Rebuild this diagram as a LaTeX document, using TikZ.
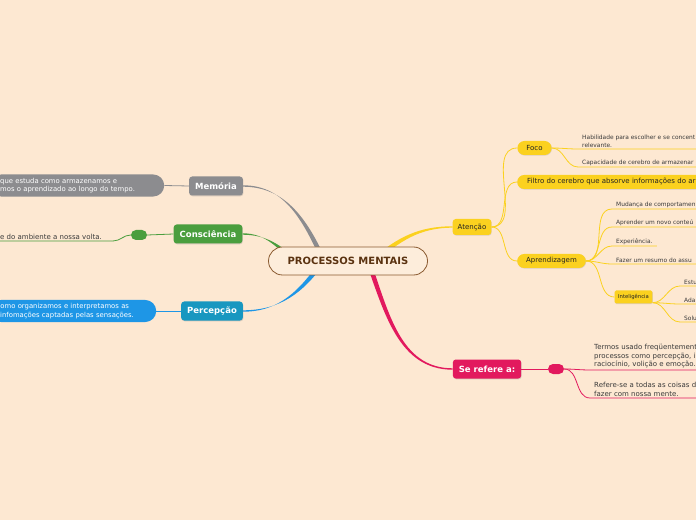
\documentclass[tikz,border=0pt]{standalone}
\usepackage{fontspec}
\setmainfont{DejaVu Sans}
\usetikzlibrary{calc, positioning, backgrounds, shadows}
\definecolor{papier}{HTML}{FDE8D2}
\definecolor{grau}{HTML}{8C8C8F}
\definecolor{gruen}{HTML}{4A9E3E}
\definecolor{tuerkis}{HTML}{1897C0}
\definecolor{blau}{HTML}{1E96E6}
\definecolor{gelb}{HTML}{FBD11F}
\definecolor{rot}{HTML}{E2195E}
\definecolor{braun}{HTML}{8A5A30}
\definecolor{dunkelbraun}{HTML}{5A3210}
\definecolor{schrift}{HTML}{3A3A3A}

\begin{document}
\begin{tikzpicture}[
    x=1pt, y=1pt,
    zentrum/.style={draw=braun, line width=0.8pt, fill=papier!80!white,
      rounded corners=14pt, minimum width=159pt, minimum height=28pt,
      text=dunkelbraun, font=\fontsize{10}{12}\selectfont\bfseries},
    kat/.style={rounded corners=3pt, minimum height=19pt, inner xsep=6pt,
      inner ysep=0pt, text=white, font=\fontsize{8.5}{10}\selectfont\bfseries,
      drop shadow={shadow xshift=0.5pt, shadow yshift=-0.8pt, opacity=0.3}},
    thema/.style={fill=gelb, rounded corners=7pt, minimum height=14pt,
      inner xsep=9pt, inner ysep=0pt, text=schrift!60!black,
      font=\fontsize{7}{8}\selectfont,
      drop shadow={shadow xshift=0.4pt, shadow yshift=-0.6pt, opacity=0.25}},
    blase/.style={anchor=west, rounded corners=11pt, inner xsep=10pt,
      inner ysep=3.5pt, align=left, text=white,
      font=\fontsize{6.85}{8.4}\selectfont},
    knopf/.style={rounded corners=5pt, minimum width=16pt, minimum height=10pt,
      inner sep=0pt},
    punkt/.style={anchor=south west, inner xsep=4pt, inner ysep=1.5pt,
      align=left, text=schrift, font=\fontsize{5.9}{7.8}\selectfont},
    satz/.style={anchor=south west, inner xsep=4pt, inner ysep=1.5pt,
      align=left, text=schrift, font=\fontsize{7}{8.6}\selectfont},
    ast/.style={line width=0.8pt},
  ]
  \useasboundingbox (0,0) rectangle (696,520);
  \clip (0,0) rectangle (696,520);

  % Mitte
  \node[zentrum] (pm) at (348,259) {PROCESSOS MENTAIS};

  % linke Seite
  \node[kat, fill=grau] (mem) at (216,334) {Memória};
  \node[blase, fill=grau, text width=154pt] (memtxt) at (-10,334.5)
    {que estuda como armazenamos e\\mos o aprendizado ao longo do tempo.};
  \node[kat, fill=gruen] (kon) at (208,286) {Consciência};
  \node[knopf, fill=gruen] (konknopf) at (139,285) {};
  \node[satz, inner xsep=1pt] (kontxt) at (-1,279) {e do ambiente a nossa volta.};
  \node[kat, fill=tuerkis] (perc) at (212,209) {Percepção};
  \node[blase, fill=blau, text width=146pt] (perctxt) at (-10,209)
    {\hspace*{-3.5pt}como organizamos e interpretamos as\\infomações captadas pelas sensações.};

  \draw[ast, grau] (mem.west) -- (memtxt.east);
  \draw[ast, gruen] (kon.west) -- (konknopf.east);
  \draw[ast, gruen] (konknopf.west) to[out=180,in=0]
    ([xshift=114pt]kontxt.south west) -- (kontxt.south west);
  \draw[ast, blau] (perc.west) -- (perctxt.east);

  % rechte Seite: Atenção
  \node[thema, rounded corners=3pt, minimum height=16pt, inner xsep=5pt]
    (at) at (472,293) {Atenção};
  \node[thema] (foco) at (534.5,372) {Foco};
  \node[thema, anchor=west, inner xsep=10pt]
    (filtro) at (517,338) {Filtro do cerebro que absorve informações do ar};
  \node[thema] (apr) at (551.5,259) {Aprendizagem};
  \node[thema, rounded corners=1.5pt, minimum height=13pt, inner xsep=3.5pt,
    font=\fontsize{5.3}{6}\selectfont] (intl) at (633.5,223) {Inteligência};

  \node[punkt] (f1) at (578,371) {Habilidade para escolher e se concent\\relevante.};
  \node[punkt] (f2) at (578,353) {Capacidade de cerebro de armazenar};
  \node[punkt] (a1) at (612,311) {Mudança de comportamen};
  \node[punkt] (a2) at (612,293) {Aprender um novo conteú};
  \node[punkt] (a3) at (612,274) {Experiência.};
  \node[punkt] (a4) at (612,256) {Fazer um resumo do assu};
  \node[punkt] (i1) at (680,234) {Estu};
  \node[punkt] (i2) at (680,216) {Ada};
  \node[punkt] (i3) at (680,198) {Solu};

  \foreach \ziel in {foco, filtro, apr}
    \draw[ast, gelb] (at.east) to[out=0,in=180] (\ziel.west);
  \foreach \ziel in {f1, f2}
    \draw[ast, gelb] (foco.east) to[out=0,in=180] (\ziel.south west)
      -- ([xshift=20pt]\ziel.south east);
  \foreach \ziel in {a1, a2, a4}
    \draw[ast, gelb] (apr.east) to[out=0,in=180] (\ziel.south west)
      -- ([xshift=20pt]\ziel.south east);
  \draw[ast, gelb] (apr.east) to[out=0,in=180] (a3.south west) -- (a3.south east);
  \draw[ast, gelb] (apr.east) to[out=0,in=180] (intl.west);
  \foreach \ziel in {i1, i2, i3}
    \draw[ast, gelb] ([yshift=1pt]intl.south east) to[out=0,in=180]
      (\ziel.south west) -- ([xshift=20pt]\ziel.south east);

  % rechte Seite: Se refere a
  \node[kat, fill=rot] (sr) at (487,151) {Se refere a:};
  \node[knopf, fill=rot] (srknopf) at (556,151) {};
  \node[satz] (s1) at (590,150)
    {Termos usado freqüentemente\\processos como percepção, i\\raciocínio, volição e emoção.};
  \node[satz] (s2) at (590,122)
    {Refere-se a todas as coisas d\\fazer com nossa mente.};
  \draw[ast, rot] (sr.east) -- (srknopf.west);
  \foreach \ziel in {s1, s2}
    \draw[ast, rot] (srknopf.east) to[out=0,in=180] (\ziel.south west)
      -- ([xshift=20pt]\ziel.south east);

  % Hauptaeste (spitz zulaufend, hinter der Mitte)
  \coordinate (ast-mem) at ($(pm.center)+(-24,0)$);
  \coordinate (ast-kon) at ($(pm.center)+(-50,-2)$);
  \coordinate (ast-perc) at ($(pm.center)+(-25,0)$);
  \coordinate (ast-at) at ($(pm.center)+(25,0)$);
  \coordinate (ast-sr) at ($(pm.center)+(20,0)$);
  \begin{scope}[on background layer]
    \fill[papier] (0,0) rectangle (696,520);
    \foreach \von/\nach/\aus/\ein/\farbe in {ast-mem/mem.east/115/0/grau,
        ast-kon/kon.east/140/0/gruen, ast-perc/perc.east/235/0/blau,
        ast-at/at.west/40/180/gelb, ast-sr/sr.west/-70/180/rot}
      \fill[\farbe] ($(\von)+({\aus+90}:2.3pt)$) to[out=\aus,in=\ein]
        ($(\nach)+(0,0.7pt)$) -- ($(\nach)+(0,-0.7pt)$) to[out=\ein,in=\aus]
        ($(\von)+({\aus-90}:2.3pt)$) -- cycle;
  \end{scope}
\end{tikzpicture}
\end{document}
